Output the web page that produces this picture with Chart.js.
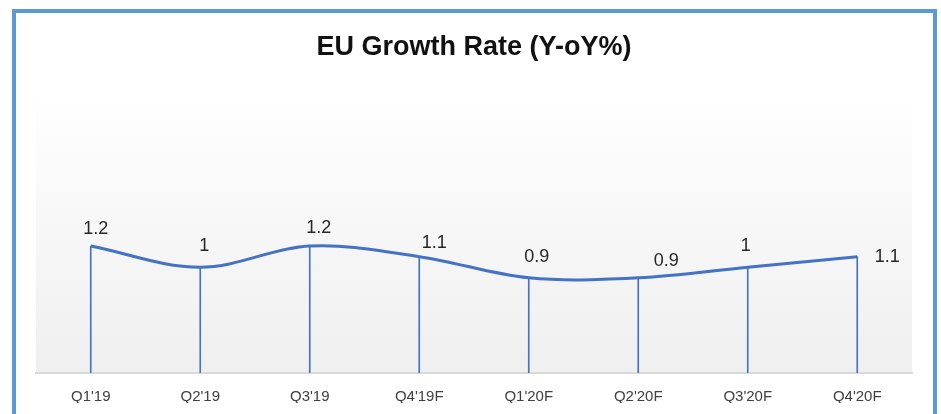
<!DOCTYPE html>
<html>
<head>
<meta charset="utf-8">
<script src="https://cdn.jsdelivr.net/npm/chart.js@4"></script>
<style>
  html, body { margin: 0; padding: 0; background: #fff; overflow: hidden; }
  #wrap { position: relative; width: 941px; height: 414px; }
  #frame {
    position: absolute; left: 12px; top: 9px; width: 925px; height: 420px;
    box-sizing: border-box; border: 4px solid #5b9bd5; border-bottom: none;
    pointer-events: none;
  }
  canvas { position: absolute; left: 0; top: 0; }
</style>
</head>
<body>
<div id="wrap">
  <canvas id="growth-chart" width="941" height="414"></canvas>
  <div id="frame"></div>
</div>
<script>
const quarters = ["Q1'19", "Q2'19", "Q3'19", "Q4'19F", "Q1'20F", "Q2'20F", "Q3'20F", "Q4'20F"]
const growth = [1.2, 1.0, 1.2, 1.1, 0.9, 0.9, 1.0, 1.1]
const growthLabels = ["1.2", "1", "1.2", "1.1", "0.9", "0.9", "1", "1.1"]

// where each value label sits relative to its point (dx, dy)
const labelOffsets = [[5, -17], [4, -21], [9, -18], [15, -14], [8, -21], [28, -17], [-2, -21], [30, 0]]

const lineBlue = '#4472c4'

// soft grey gradient behind the plot
const plotBackground = {
    id: 'plotBackground',
    beforeDraw(chart) {
        const {ctx, chartArea: a} = chart
        const g = ctx.createLinearGradient(0, a.top, 0, a.bottom)
        g.addColorStop(0, '#ffffff')
        g.addColorStop(1, '#efefef')
        ctx.save()
        ctx.fillStyle = g
        ctx.fillRect(a.left, a.top, a.right - a.left, a.bottom - a.top)
        ctx.restore()
    }
}

const valueLabels = {
    id: 'valueLabels',
    afterDatasetsDraw(chart) {
        const ctx = chart.ctx
        const meta = chart.getDatasetMeta(1)
        ctx.save()
        ctx.font = '18px "Liberation Sans", Arial, sans-serif'
        ctx.fillStyle = '#262626'
        ctx.textAlign = 'center'
        ctx.textBaseline = 'middle'
        meta.data.forEach((pt, i) => {
            const [dx, dy] = labelOffsets[i]
            ctx.fillText(growthLabels[i], pt.x + dx, pt.y + dy)
        })
        ctx.restore()
    }
}

const ctx = document.getElementById('growth-chart')
new Chart(ctx, {
    data: {
        labels: quarters,
        datasets: [{
            type: 'bar',
            data: growth,
            backgroundColor: lineBlue,
            barThickness: 1,
            order: 2
        }, {
            type: 'line',
            data: growth,
            borderColor: lineBlue,
            borderWidth: 3,
            tension: 0.35,
            pointRadius: 0,
            fill: false,
            order: 1
        }]
    },
    options: {
        responsive: false,
        animation: false,
        layout: {
            padding: { left: 36, right: 29, top: 0, bottom: 11 }
        },
        plugins: {
            legend: { display: false },
            tooltip: { enabled: false },
            title: {
                display: true,
                text: 'EU Growth Rate (Y-oY%)',
                color: '#111',
                font: { family: '"Liberation Sans", Arial, sans-serif', size: 27, weight: 'bold', lineHeight: 1.2 },
                padding: { top: 31, bottom: 24 }
            }
        },
        scales: {
            x: {
                offset: true,
                grid: { display: false, drawTicks: false },
                border: { display: true, color: '#d9d9d9', width: 2 },
                ticks: {
                    padding: 15,
                    color: '#404040',
                    font: { family: '"Liberation Sans", Arial, sans-serif', size: 15 }
                },
                afterFit(scale) {
                    scale.height = 30
                }
            },
            y: {
                display: false,
                min: 0,
                max: 2.7
            }
        }
    },
    plugins: [plotBackground, valueLabels]
})
</script>
</body>
</html>
